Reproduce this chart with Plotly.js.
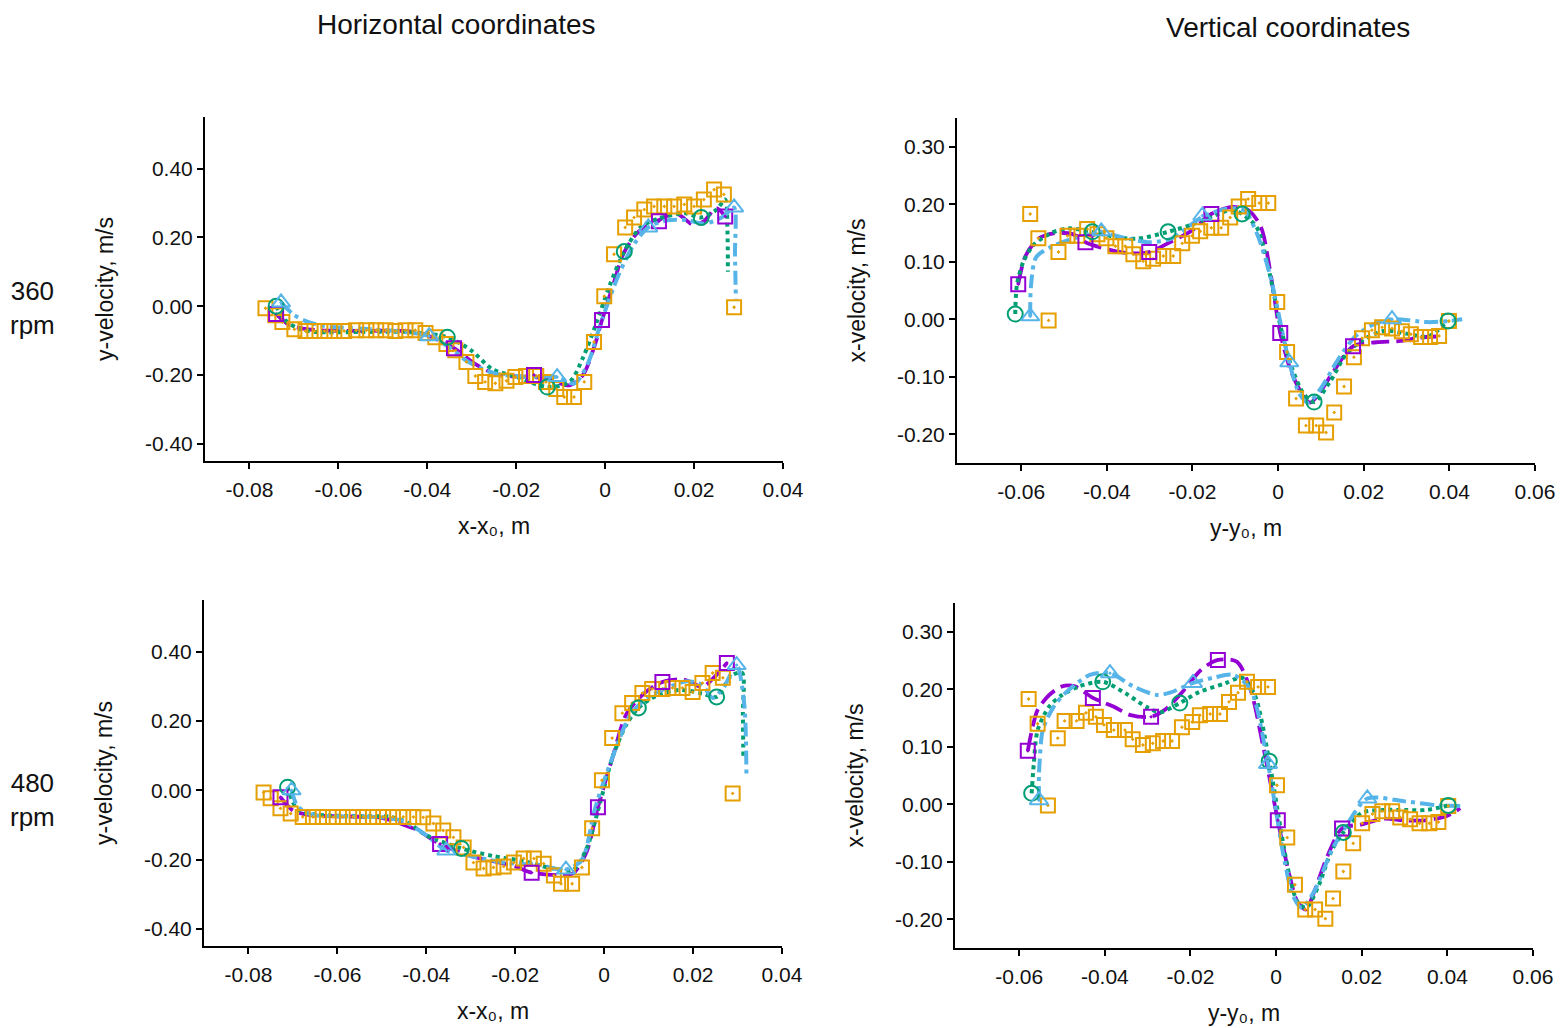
<!DOCTYPE html>
<html>
<head>
<meta charset="utf-8">
<script src="https://cdn.plot.ly/plotly-3.0.1.min.js"></script>
<style>html,body{margin:0;padding:0;background:#fff;}#chart{width:1562px;height:1028px;}</style>
</head>
<body>
<div id="chart"></div>
<script>
// ---------- Tick labels ----------
const hTickVals = [-0.08, -0.06, -0.04, -0.02, 0, 0.02, 0.04];
const hTickText = ["-0.08", "-0.06", "-0.04", "-0.02", "0", "0.02", "0.04"];
const vTickVals = [-0.06, -0.04, -0.02, 0, 0.02, 0.04, 0.06];
const vTickText = ["-0.06", "-0.04", "-0.02", "0", "0.02", "0.04", "0.06"];
const hYTickVals = [-0.4, -0.2, 0, 0.2, 0.4];
const hYTickText = ["-0.40", "-0.20", "0.00", "0.20", "0.40"];
const vYTickVals = [-0.2, -0.1, 0, 0.1, 0.2, 0.3];
const vYTickText = ["-0.20", "-0.10", "0.00", "0.10", "0.20", "0.30"];

// ---------- Panel A: 360 rpm, horizontal coordinates ----------
const h360ExpX = [-0.0764,-0.0742,-0.0726,-0.0699,-0.0674,-0.0654,-0.0631,-0.0609,-0.0587,-0.056,-0.0537,-0.0515,-0.0494,-0.0472,-0.0449,-0.0427,-0.0404,-0.0382,-0.0357,-0.0337,-0.0312,-0.0292,-0.027,-0.0247,-0.0222,-0.0202,-0.0178,-0.0155,-0.0133,-0.011,-0.0092,-0.007,-0.0047,-0.0025,-0.0002,0.002,0.0045,0.0065,0.0088,0.011,0.0133,0.0155,0.0178,0.02,0.0222,0.0245,0.0267,0.029];
const h360ExpY = [-0.006,-0.026,-0.046,-0.067,-0.072,-0.072,-0.072,-0.072,-0.072,-0.070,-0.070,-0.070,-0.070,-0.072,-0.070,-0.070,-0.078,-0.090,-0.110,-0.128,-0.162,-0.203,-0.220,-0.224,-0.217,-0.206,-0.203,-0.203,-0.220,-0.241,-0.264,-0.264,-0.220,-0.104,0.029,0.151,0.229,0.258,0.281,0.290,0.290,0.290,0.296,0.290,0.310,0.339,0.325,-0.003];
const h360PurX = [-0.074,-0.071,-0.068,-0.064,-0.055,-0.045,-0.04,-0.034,-0.029,-0.024,-0.018,-0.013,-0.008,-0.005,-0.0025,-0.0007,0.002,0.004,0.007,0.009,0.012,0.016,0.0196,0.022,0.025,0.027];
const h360PurY = [-0.023,-0.055,-0.065,-0.07,-0.072,-0.072,-0.085,-0.122,-0.17,-0.2,-0.205,-0.21,-0.23,-0.2,-0.12,-0.04,0.07,0.15,0.21,0.23,0.25,0.27,0.238,0.245,0.285,0.261];
const h360PurMX = [-0.074,-0.034,-0.016,-0.0007,0.0121,0.027];
const h360PurMY = [-0.023,-0.122,-0.2,-0.04,0.247,0.261];
const h360GrnX = [-0.074,-0.072,-0.069,-0.065,-0.055,-0.045,-0.0355,-0.03,-0.0254,-0.02,-0.013,-0.008,-0.005,-0.002,0.001,0.0043,0.008,0.012,0.018,0.0216,0.025,0.027,0.0275,0.0276];
const h360GrnY = [0.0,-0.04,-0.065,-0.075,-0.075,-0.075,-0.09,-0.13,-0.183,-0.205,-0.235,-0.22,-0.15,-0.05,0.06,0.159,0.23,0.255,0.27,0.258,0.28,0.31,0.22,0.10];
const h360GrnMX = [-0.074,-0.0355,-0.013,0.0043,0.0216];
const h360GrnMY = [0.0,-0.09,-0.235,0.159,0.258];
const h360BluX = [-0.0729,-0.07,-0.067,-0.063,-0.055,-0.045,-0.0396,-0.035,-0.031,-0.025,-0.018,-0.0108,-0.007,-0.004,-0.001,0.003,0.0065,0.0097,0.014,0.0185,0.022,0.025,0.027,0.029,0.0292,0.0294];
const h360BluY = [0.011,-0.025,-0.045,-0.058,-0.065,-0.075,-0.087,-0.12,-0.16,-0.195,-0.205,-0.206,-0.225,-0.17,-0.05,0.09,0.18,0.229,0.25,0.25,0.24,0.25,0.265,0.287,0.15,0.02];
const h360BluMX = [-0.0729,-0.0396,-0.0108,0.0097,0.029];
const h360BluMY = [0.011,-0.087,-0.206,0.229,0.287];

// ---------- Panel B: 360 rpm, vertical coordinates ----------
const v360ExpX = [-0.0579,-0.056,-0.0536,-0.0513,-0.0492,-0.0469,-0.0446,-0.0422,-0.0401,-0.038,-0.0357,-0.0338,-0.0315,-0.0292,-0.0268,-0.0245,-0.0224,-0.0201,-0.0182,-0.0156,-0.0133,-0.0112,-0.0092,-0.007,-0.0044,-0.0023,-0.0002,0.0021,0.0042,0.0065,0.0089,0.0112,0.0131,0.0154,0.0177,0.0196,0.0219,0.0243,0.0266,0.0289,0.031,0.0334,0.0355,0.0376,0.0399];
const v360ExpY = [0.183,0.141,-0.002,0.117,0.145,0.145,0.157,0.148,0.141,0.127,0.127,0.113,0.101,0.105,0.110,0.110,0.132,0.145,0.153,0.159,0.159,0.177,0.196,0.209,0.202,0.202,0.030,-0.057,-0.138,-0.185,-0.185,-0.197,-0.162,-0.117,-0.066,-0.033,-0.019,-0.014,-0.016,-0.021,-0.026,-0.031,-0.031,-0.029,-0.003];
const v360PurX = [-0.0607,-0.059,-0.056,-0.052,-0.048,-0.045,-0.04,-0.035,-0.0301,-0.026,-0.02,-0.0156,-0.011,-0.007,-0.004,-0.002,0.0005,0.003,0.006,0.0075,0.0095,0.013,0.0175,0.0229,0.0282,0.033,0.037];
const v360PurY = [0.061,0.11,0.14,0.15,0.148,0.134,0.122,0.115,0.117,0.131,0.155,0.183,0.195,0.19,0.16,0.09,-0.024,-0.09,-0.135,-0.145,-0.13,-0.09,-0.047,-0.04,-0.038,-0.032,-0.03];
const v360PurMX = [-0.0607,-0.045,-0.0301,-0.0156,0.0005,0.0175];
const v360PurMY = [0.061,0.134,0.117,0.183,-0.024,-0.047];
const v360GrnX = [-0.0614,-0.061,-0.0595,-0.057,-0.053,-0.049,-0.0434,-0.038,-0.033,-0.0257,-0.02,-0.015,-0.011,-0.0084,-0.005,-0.002,0.0005,0.003,0.006,0.0084,0.012,0.016,0.02,0.025,0.03,0.035,0.0397];
const v360GrnY = [0.009,0.06,0.10,0.13,0.15,0.158,0.152,0.143,0.14,0.152,0.165,0.18,0.19,0.183,0.16,0.08,-0.01,-0.08,-0.13,-0.144,-0.11,-0.06,-0.035,-0.02,-0.025,-0.03,-0.003];
const v360GrnMX = [-0.0614,-0.0434,-0.0257,-0.0084,0.0084,0.0397];
const v360GrnMY = [0.009,0.152,0.152,0.183,-0.144,-0.003];
const v360BluX = [-0.0579,-0.0577,-0.0565,-0.0527,-0.047,-0.0413,-0.035,-0.03,-0.025,-0.0177,-0.012,-0.008,-0.005,-0.002,0.0026,0.005,0.007,0.01,0.014,0.018,0.022,0.0266,0.035,0.04,0.043];
const v360BluY = [0.005,0.06,0.108,0.127,0.142,0.15,0.14,0.134,0.14,0.178,0.192,0.19,0.15,0.08,-0.075,-0.13,-0.145,-0.12,-0.07,-0.03,-0.01,0.0,-0.005,-0.003,0.0];
const v360BluMX = [-0.0579,-0.0413,-0.0177,0.0026,0.0266];
const v360BluMY = [0.005,0.153,0.18,-0.075,0.0];

// ---------- Panel C: 480 rpm, horizontal coordinates ----------
const h480ExpX = [-0.0766,-0.075,-0.0728,-0.0705,-0.0678,-0.0655,-0.0633,-0.061,-0.0588,-0.0565,-0.0542,-0.052,-0.0497,-0.0475,-0.0452,-0.0429,-0.0407,-0.0384,-0.0362,-0.0339,-0.0316,-0.0294,-0.0271,-0.0249,-0.0226,-0.0203,-0.0181,-0.0158,-0.0136,-0.0113,-0.0097,-0.0072,-0.005,-0.0027,-0.0005,0.0018,0.0041,0.0063,0.0086,0.0108,0.0131,0.0154,0.0176,0.0199,0.0221,0.0244,0.0267,0.0289];
const h480ExpY = [-0.006,-0.023,-0.052,-0.067,-0.077,-0.077,-0.077,-0.077,-0.077,-0.077,-0.077,-0.077,-0.077,-0.077,-0.077,-0.077,-0.078,-0.096,-0.116,-0.136,-0.165,-0.209,-0.226,-0.223,-0.220,-0.209,-0.197,-0.197,-0.212,-0.246,-0.270,-0.270,-0.223,-0.110,0.029,0.151,0.223,0.252,0.281,0.293,0.293,0.296,0.296,0.284,0.310,0.339,0.325,-0.009];
const h480PurX = [-0.0728,-0.07,-0.066,-0.06,-0.05,-0.045,-0.042,-0.0369,-0.03,-0.025,-0.02,-0.0163,-0.01,-0.007,-0.004,-0.0014,0.002,0.005,0.009,0.0131,0.018,0.0221,0.025,0.0276];
const h480PurY = [-0.02,-0.058,-0.072,-0.075,-0.08,-0.1,-0.115,-0.155,-0.19,-0.205,-0.22,-0.238,-0.245,-0.24,-0.18,-0.049,0.1,0.22,0.28,0.313,0.32,0.299,0.33,0.368];
const h480PurMX = [-0.0728,-0.0369,-0.0163,-0.0014,0.0131,0.0276];
const h480PurMY = [-0.02,-0.155,-0.238,-0.049,0.313,0.368];
const h480GrnX = [-0.0712,-0.069,-0.065,-0.055,-0.048,-0.044,-0.04,-0.0321,-0.025,-0.018,-0.012,-0.007,-0.004,-0.001,0.002,0.005,0.0077,0.012,0.017,0.022,0.0253,0.0285,0.031,0.0312,0.0313];
const h480GrnY = [0.009,-0.055,-0.07,-0.075,-0.077,-0.095,-0.13,-0.168,-0.19,-0.205,-0.225,-0.23,-0.17,-0.04,0.1,0.19,0.238,0.275,0.29,0.28,0.27,0.33,0.34,0.22,0.10];
const h480GrnMX = [-0.0712,-0.0321,0.0077,0.0253];
const h480GrnMY = [0.009,-0.168,0.238,0.27];
const h480BluX = [-0.0703,-0.069,-0.066,-0.06,-0.05,-0.045,-0.04,-0.0355,-0.03,-0.022,-0.015,-0.0086,-0.005,-0.002,0.002,0.006,0.01,0.015,0.0185,0.022,0.0244,0.027,0.0298,0.0315,0.032];
const h480BluY = [0.0,-0.045,-0.07,-0.075,-0.078,-0.09,-0.13,-0.174,-0.19,-0.21,-0.215,-0.229,-0.2,-0.05,0.1,0.22,0.27,0.3,0.315,0.305,0.267,0.3,0.362,0.25,0.04];
const h480BluMX = [-0.0703,-0.0355,-0.0086,0.0298];
const h480BluMY = [0.0,-0.174,-0.229,0.362];

// ---------- Panel D: 480 rpm, vertical coordinates ----------
const v480ExpX = [-0.0578,-0.0557,-0.0533,-0.051,-0.0494,-0.0466,-0.0444,-0.0421,-0.0402,-0.0379,-0.0353,-0.0335,-0.0311,-0.0288,-0.0264,-0.0243,-0.022,-0.0196,-0.0178,-0.0154,-0.0131,-0.011,-0.0089,-0.0068,-0.0042,-0.0019,0.0002,0.0026,0.0044,0.0068,0.0091,0.0115,0.0133,0.0157,0.018,0.0201,0.0225,0.0248,0.0271,0.029,0.0313,0.0335,0.0358,0.0379,0.0402];
const v480ExpY = [0.183,0.140,-0.002,0.115,0.145,0.145,0.159,0.152,0.138,0.129,0.129,0.113,0.103,0.106,0.110,0.110,0.134,0.143,0.155,0.157,0.157,0.178,0.194,0.213,0.204,0.204,0.033,-0.058,-0.140,-0.183,-0.183,-0.199,-0.164,-0.117,-0.068,-0.033,-0.017,-0.012,-0.012,-0.023,-0.026,-0.033,-0.033,-0.031,-0.003];
const v480PurX = [-0.058,-0.057,-0.0557,-0.053,-0.05,-0.047,-0.0428,-0.038,-0.034,-0.0292,-0.0255,-0.0218,-0.0175,-0.0136,-0.0092,-0.006,-0.003,0.0004,0.003,0.005,0.007,0.009,0.012,0.0154,0.02,0.025,0.03,0.035,0.04,0.043];
const v480PurY = [0.093,0.13,0.164,0.19,0.205,0.205,0.185,0.17,0.155,0.152,0.167,0.196,0.234,0.251,0.248,0.2,0.1,-0.028,-0.12,-0.17,-0.183,-0.15,-0.09,-0.042,-0.035,-0.025,-0.028,-0.028,-0.02,-0.007];
const v480PurMX = [-0.058,-0.0428,-0.0292,-0.0136,0.0004,0.0154];
const v480PurMY = [0.093,0.185,0.152,0.251,-0.028,-0.042];
const v480GrnX = [-0.0571,-0.0566,-0.0557,-0.053,-0.05,-0.046,-0.0405,-0.035,-0.03,-0.027,-0.0225,-0.018,-0.012,-0.008,-0.005,-0.0016,0.001,0.003,0.005,0.007,0.01,0.013,0.0157,0.02,0.025,0.03,0.035,0.0402];
const v480GrnY = [0.019,0.07,0.129,0.17,0.19,0.205,0.213,0.192,0.168,0.16,0.176,0.195,0.21,0.22,0.19,0.075,-0.04,-0.12,-0.17,-0.18,-0.14,-0.08,-0.049,-0.015,-0.01,-0.01,-0.01,-0.002];
const v480GrnMX = [-0.0571,-0.0405,-0.0225,-0.0016,0.0157,0.0402];
const v480GrnMY = [0.019,0.213,0.176,0.075,-0.049,-0.002];
const v480BluX = [-0.0554,-0.0554,-0.0552,-0.0545,-0.052,-0.049,-0.0435,-0.0388,-0.0334,-0.0278,-0.0248,-0.0194,-0.0147,-0.01,-0.006,-0.0019,0.002,0.004,0.006,0.009,0.013,0.017,0.0213,0.03,0.038,0.043];
const v480BluY = [0.007,0.05,0.077,0.129,0.169,0.195,0.225,0.228,0.205,0.19,0.194,0.211,0.22,0.225,0.2,0.07,-0.1,-0.16,-0.18,-0.15,-0.08,-0.03,0.01,0.005,-0.002,-0.003];
const v480BluMX = [-0.0554,-0.0388,-0.0194,-0.0019,0.0213];
const v480BluMY = [0.007,0.228,0.211,0.07,0.01];

// ---------- Styles ----------
const ORANGE = '#E69F00', PURPLE = '#9400D3', GREEN = '#009E73', BLUE = '#56B4E9';
const FONT = 'Liberation Sans, Arial, Helvetica, sans-serif';

function panelTraces(ax, ay, d) {
  const common = {xaxis: ax, yaxis: ay, showlegend: false, hoverinfo: 'skip'};
  return [
    Object.assign({type: 'scatter', mode: 'lines', x: d.purX, y: d.purY,
      line: {color: PURPLE, width: 3.8, dash: '18px,7px', shape: 'spline', smoothing: 0.8}}, common),
    Object.assign({type: 'scatter', mode: 'lines', x: d.grnX, y: d.grnY,
      line: {color: GREEN, width: 4, dash: '4px,4px', shape: 'spline', smoothing: 0.8}}, common),
    Object.assign({type: 'scatter', mode: 'lines', x: d.bluX, y: d.bluY,
      line: {color: BLUE, width: 4, dash: '14px,5px,4px,5px', shape: 'spline', smoothing: 0.8}}, common),
    Object.assign({type: 'scatter', mode: 'markers', x: d.expX, y: d.expY,
      marker: {symbol: 'square-open-dot', size: 14, color: ORANGE, line: {color: ORANGE, width: 2}}}, common),
    Object.assign({type: 'scatter', mode: 'markers', x: d.purMX, y: d.purMY,
      marker: {symbol: 'square-open-dot', size: 14, color: PURPLE, line: {color: PURPLE, width: 2}}}, common),
    Object.assign({type: 'scatter', mode: 'markers', x: d.grnMX, y: d.grnMY,
      marker: {symbol: 'circle-open', size: 15, color: GREEN, line: {color: GREEN, width: 2}}}, common),
    Object.assign({type: 'scatter', mode: 'markers', x: d.bluMX, y: d.bluMY,
      marker: {symbol: 'triangle-up-open-dot', size: 16, color: BLUE, line: {color: BLUE, width: 2}}}, common)
  ];
}

const traces = [].concat(
  panelTraces('x', 'y', {expX: h360ExpX, expY: h360ExpY, purX: h360PurX, purY: h360PurY, purMX: h360PurMX, purMY: h360PurMY,
    grnX: h360GrnX, grnY: h360GrnY, grnMX: h360GrnMX, grnMY: h360GrnMY, bluX: h360BluX, bluY: h360BluY, bluMX: h360BluMX, bluMY: h360BluMY}),
  panelTraces('x2', 'y2', {expX: v360ExpX, expY: v360ExpY, purX: v360PurX, purY: v360PurY, purMX: v360PurMX, purMY: v360PurMY,
    grnX: v360GrnX, grnY: v360GrnY, grnMX: v360GrnMX, grnMY: v360GrnMY, bluX: v360BluX, bluY: v360BluY, bluMX: v360BluMX, bluMY: v360BluMY}),
  panelTraces('x3', 'y3', {expX: h480ExpX, expY: h480ExpY, purX: h480PurX, purY: h480PurY, purMX: h480PurMX, purMY: h480PurMY,
    grnX: h480GrnX, grnY: h480GrnY, grnMX: h480GrnMX, grnMY: h480GrnMY, bluX: h480BluX, bluY: h480BluY, bluMX: h480BluMX, bluMY: h480BluMY}),
  panelTraces('x4', 'y4', {expX: v480ExpX, expY: v480ExpY, purX: v480PurX, purY: v480PurY, purMX: v480PurMX, purMY: v480PurMY,
    grnX: v480GrnX, grnY: v480GrnY, grnMX: v480GrnMX, grnMY: v480GrnMY, bluX: v480BluX, bluY: v480BluY, bluMX: v480BluMX, bluMY: v480BluMY})
);

const W = 1562, H = 1028;
function px(x) { return x / W; }
function py(y) { return 1 - y / H; }

function xAxis(domain, anchor, range, tv, tt, title) {
  return {domain: domain, anchor: anchor, range: range, tickvals: tv, ticktext: tt,
    showline: true, linecolor: '#000', linewidth: 2, ticks: 'outside', ticklen: 6, tickwidth: 2, tickcolor: '#000',
    showgrid: false, zeroline: false, ticklabelstandoff: 3,
    tickfont: {family: FONT, size: 21, color: '#111'},
    title: {text: title, font: {family: FONT, size: 23, color: '#111'}, standoff: 18}};
}
function yAxis(domain, anchor, range, tv, tt, title) {
  return {domain: domain, anchor: anchor, range: range, tickvals: tv, ticktext: tt,
    showline: true, linecolor: '#000', linewidth: 2, ticks: 'outside', ticklen: 6, tickwidth: 2, tickcolor: '#000',
    showgrid: false, zeroline: false, ticklabelstandoff: 0,
    tickfont: {family: FONT, size: 21, color: '#111'},
    title: {text: title, font: {family: FONT, size: 23, color: '#111'}, standoff: 25}};
}

const layout = {
  width: W, height: H, autosize: false,
  margin: {l: 0, r: 0, t: 0, b: 0},
  paper_bgcolor: '#fff', plot_bgcolor: '#fff',
  showlegend: false,
  font: {family: FONT, color: '#111'},
  xaxis: xAxis([px(205), px(783)], 'y', [-0.09, 0.04], hTickVals, hTickText, 'x-x\u2080, m'),
  yaxis: yAxis([py(461), py(117)], 'x', [-0.45, 0.55], hYTickVals, hYTickText, 'y-velocity, m/s'),
  xaxis2: xAxis([px(957), px(1535)], 'y2', [-0.075, 0.06], vTickVals, vTickText, 'y-y\u2080, m'),
  yaxis2: yAxis([py(463), py(118)], 'x2', [-0.25, 0.35], vYTickVals, vYTickText, 'x-velocity, m/s'),
  xaxis3: xAxis([px(204), px(782)], 'y3', [-0.09, 0.04], hTickVals, hTickText, 'x-x\u2080, m'),
  yaxis3: yAxis([py(946), py(600)], 'x3', [-0.45, 0.55], hYTickVals, hYTickText, 'y-velocity, m/s'),
  xaxis4: xAxis([px(955), px(1533)], 'y4', [-0.075, 0.06], vTickVals, vTickText, 'y-y\u2080, m'),
  yaxis4: yAxis([py(948), py(603)], 'x4', [-0.25, 0.35], vYTickVals, vYTickText, 'x-velocity, m/s'),
  annotations: [
    {text: 'Horizontal coordinates', xref: 'paper', yref: 'paper', x: px(457), y: py(24), xanchor: 'center', yanchor: 'middle',
      showarrow: false, font: {family: FONT, size: 28, color: '#111'}},
    {text: 'Vertical coordinates', xref: 'paper', yref: 'paper', x: px(1288), y: py(27), xanchor: 'center', yanchor: 'middle',
      showarrow: false, font: {family: FONT, size: 28, color: '#111'}},
    {text: '360<br>rpm', xref: 'paper', yref: 'paper', x: px(32), y: py(308), xanchor: 'center', yanchor: 'middle',
      showarrow: false, align: 'center', font: {family: FONT, size: 26, color: '#111'}},
    {text: '480<br>rpm', xref: 'paper', yref: 'paper', x: px(32), y: py(800), xanchor: 'center', yanchor: 'middle',
      showarrow: false, align: 'center', font: {family: FONT, size: 26, color: '#111'}}
  ]
};

Plotly.newPlot('chart', traces, layout, {staticPlot: true, displayModeBar: false});
</script>
</body>
</html>
